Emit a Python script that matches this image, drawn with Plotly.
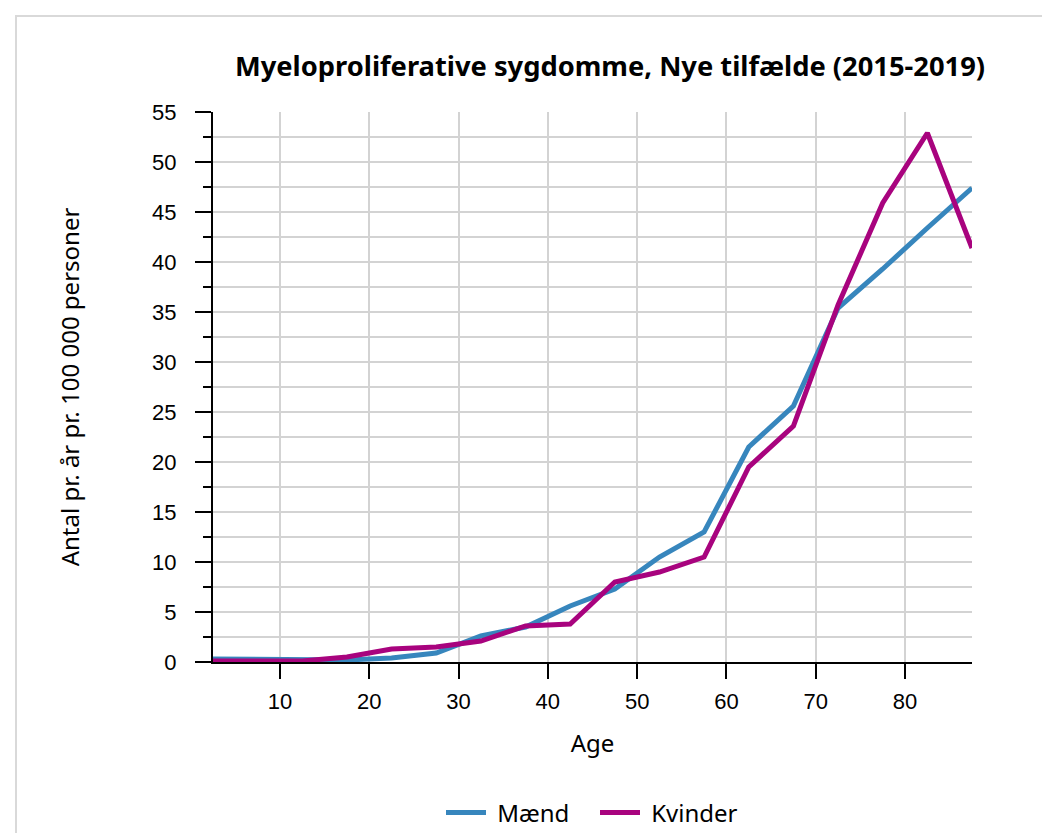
import plotly.graph_objects as go

ages = [2.5, 7.5, 12.5, 17.5, 22.5, 27.5, 32.5, 37.5, 42.5, 47.5, 52.5, 57.5,
        62.5, 67.5, 72.5, 77.5, 82.5, 87.5]
maend = [0.3, 0.3, 0.2, 0.2, 0.4, 0.9, 2.6, 3.5, 5.6, 7.3, 10.5, 13.0,
         21.5, 25.6, 35.4, 39.3, 43.4, 47.4]
kvinder = [0.1, 0.1, 0.1, 0.5, 1.3, 1.5, 2.1, 3.6, 3.8, 8.0, 9.0, 10.5,
           19.5, 23.6, 35.7, 45.9, 52.9, 41.4]

title_text = "Myeloproliferative sygdomme, Nye tilfælde (2015-2019)"
y_title = "Antal pr. år pr. 100 000 personer"
x_title = "Age"
x_ticks = [10, 20, 30, 40, 50, 60, 70, 80]
series_names = ["Mænd", "Kvinder"]

blue = "#3786BD"
purple = "#A8037E"

fig = go.Figure()
fig.add_trace(go.Scatter(x=ages, y=maend, mode="lines", name="\u00a0" + series_names[0],
                         line=dict(color=blue, width=5)))
fig.add_trace(go.Scatter(x=ages, y=kvinder, mode="lines", name="\u00a0" + series_names[1],
                         line=dict(color=purple, width=5)))

W, H = 1042, 833
L, R, T, B = 213, 70, 112, 171
pw, ph = W - L - R, H - T - B


def px(x):
    return (x - L) / pw


def py(y):
    return (H - B - y) / ph


fig.update_layout(
    width=W, height=H,
    margin=dict(l=L, r=R, t=T, b=B),
    paper_bgcolor="white", plot_bgcolor="white",
    title=dict(text="<b>" + title_text + "</b>", x=610 / W, xanchor="center",
               xref="container", y=1 - 66 / H, yanchor="middle", yref="container",
               font=dict(family="Noto Sans", size=27.3, color="black")),
    xaxis=dict(range=[2.5, 87.5], tickvals=x_ticks, ticks="outside", ticklen=15,
               tickwidth=2, tickcolor="black", showline=True, linecolor="black",
               linewidth=2, showgrid=True, gridcolor="#d3d3d3", gridwidth=2,
               zeroline=False, ticklabelstandoff=4,
               tickfont=dict(family="Liberation Sans", size=22, color="black"),
               title=dict(text=x_title, standoff=22,
                          font=dict(family="Noto Sans", size=24, color="black"))),
    yaxis=dict(range=[0, 55], dtick=5, ticks="outside", ticklen=16, tickwidth=2,
               tickcolor="black", showline=True, linecolor="black", linewidth=2,
               showgrid=True, gridcolor="#d3d3d3", gridwidth=2, zeroline=False,
               ticklabelstandoff=14,
               minor=dict(dtick=2.5, ticks="outside", ticklen=8, tickwidth=2,
                          tickcolor="black", showgrid=True, gridcolor="#d3d3d3",
                          gridwidth=2),
               tickfont=dict(family="Liberation Sans", size=22, color="black"),
               title=dict(text=y_title, standoff=66,
                          font=dict(family="Noto Sans", size=24, color="black"))),
    legend=dict(orientation="h", x=441 / W, xanchor="left", xref="container",
                y=20 / H, yanchor="middle", yref="container",
                font=dict(family="Noto Sans", size=24, color="black"),
                itemwidth=40, entrywidth=99, entrywidthmode="pixels"),
    shapes=[dict(type="rect", xref="paper", yref="paper",
                 x0=px(16), x1=px(1060), y0=py(16), y1=py(850),
                 line=dict(color="#d9d9d9", width=2), layer="below")],
    showlegend=True,
)

fig.write_html("out.html", config={"displayModeBar": False},
               post_script="document.body.style.margin='0';document.body.style.padding='0';")
